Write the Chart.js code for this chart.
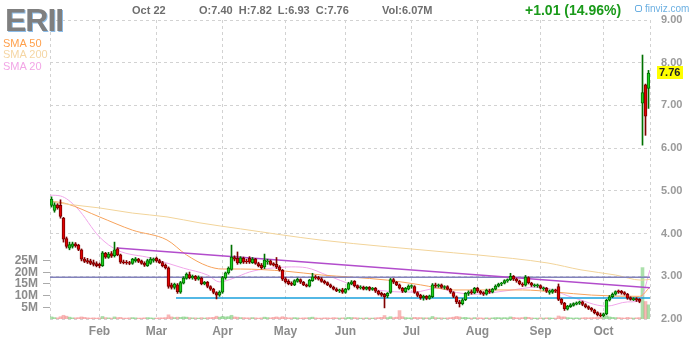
<!DOCTYPE html>
<html>
<head>
<meta charset="utf-8">
<script src="https://cdn.jsdelivr.net/npm/chart.js@4.4.0/dist/chart.umd.min.js"></script>
<style>
  body { margin: 0; background: #fff; }
  #wrap { position: relative; width: 700px; height: 340px; font-family: "Liberation Sans", Arial, sans-serif; }
  #wrap canvas { position: absolute; left: 0; top: 0; }
  .lbl { position: absolute; line-height: 1; white-space: pre; }
</style>
</head>
<body>
<div id="wrap">
  <canvas id="chart" width="700" height="340"></canvas>
  <div class="lbl" style="left:5px;top:4px;font-size:32px;font-weight:bold;letter-spacing:-1px;color:#7f7f7f;text-shadow:1px 1px 0 #8cbce8;">ERII</div>
  <div class="lbl" style="left:3px;top:38px;font-size:11px;color:#ffa04c;">SMA 50</div>
  <div class="lbl" style="left:3px;top:49px;font-size:11px;color:#f5d6a4;">SMA 200</div>
  <div class="lbl" style="left:3px;top:61px;font-size:11px;color:#f2a6e6;">SMA 20</div>
  <div class="lbl" style="left:132px;top:5px;font-size:11px;font-weight:bold;color:#6e6e6e;">Oct 22</div>
  <div class="lbl" style="left:199px;top:5px;font-size:11px;font-weight:bold;color:#6e6e6e;">O:7.40  H:7.82  L:6.93  C:7.76</div>
  <div class="lbl" style="left:382px;top:5px;font-size:11px;font-weight:bold;color:#6e6e6e;">Vol:6.07M</div>
  <div class="lbl" style="left:525px;top:3px;font-size:14px;font-weight:bold;color:#1a9a1a;">+1.01 (14.96%)</div>
  <div class="lbl" style="left:635px;top:4px;font-size:10px;color:#6cb0e2;"><span style="display:inline-block;width:5px;height:5px;border:1px solid #6cb0e2;border-radius:2px;margin-right:3px;"></span>finviz.com</div>
</div>
<script>
// Daily bars Jan 8 - Oct 22
const opens = [
  4.66, 4.54, 4.67, 4.66, 4.36, 3.88, 3.66, 3.70, 3.76, 3.73,
  3.62, 3.40, 3.37, 3.36, 3.32, 3.30, 3.28, 3.25, 3.54, 3.44,
  3.53, 3.48, 3.64, 3.50, 3.34, 3.33, 3.32, 3.30, 3.36, 3.40,
  3.36, 3.31, 3.25, 3.30, 3.37, 3.42, 3.37, 3.32, 3.26, 3.20,
  2.80, 2.74, 2.80, 2.63, 2.84, 2.95, 3.04, 2.96, 3.00, 2.93,
  2.96, 2.82, 2.86, 2.76, 2.70, 2.62, 2.56, 2.63, 2.96, 3.08,
  3.16, 3.44, 3.42, 3.32, 3.42, 3.35, 3.42, 3.32, 3.40, 3.30,
  3.26, 3.22, 3.34, 3.36, 3.30, 3.28, 3.22, 3.14, 2.94, 2.88,
  2.84, 2.80, 2.88, 2.92, 2.86, 2.80, 2.77, 2.90, 2.99, 2.97,
  2.94, 2.88, 2.85, 2.80, 2.75, 2.70, 2.66, 2.68, 2.62, 2.70,
  2.82, 2.88, 2.78, 2.73, 2.75, 2.70, 2.74, 2.69, 2.72, 2.65,
  2.60, 2.58, 2.54, 2.62, 2.92, 2.86, 2.80, 2.72, 2.64, 2.70,
  2.76, 2.76, 2.62, 2.56, 2.50, 2.53, 2.48, 2.52, 2.80, 2.77,
  2.80, 2.74, 2.76, 2.70, 2.62, 2.52, 2.40, 2.36, 2.45, 2.60,
  2.64, 2.61, 2.72, 2.65, 2.62, 2.58, 2.66, 2.63, 2.70, 2.77,
  2.82, 2.84, 2.89, 2.92, 3.00, 2.93, 2.89, 2.82, 2.79, 2.97,
  2.84, 2.78, 2.78, 2.78, 2.71, 2.72, 2.62, 2.63, 2.68, 2.76,
  2.46, 2.37, 2.23, 2.29, 2.32, 2.35, 2.37, 2.40, 2.34, 2.29,
  2.25, 2.21, 2.15, 2.10, 2.07, 2.12, 2.44, 2.52, 2.58, 2.66,
  2.65, 2.62, 2.58, 2.50, 2.45, 2.48, 2.46, 7.05, 7.48, 7.40
];
const highs = [
  4.86, 4.72, 4.70, 4.79, 4.38, 3.92, 3.80, 3.80, 3.79, 3.75,
  3.64, 3.44, 3.42, 3.40, 3.38, 3.34, 3.31, 3.58, 3.56, 3.56,
  3.58, 3.80, 3.67, 3.52, 3.38, 3.37, 3.35, 3.42, 3.44, 3.42,
  3.38, 3.34, 3.40, 3.44, 3.43, 3.45, 3.40, 3.35, 3.29, 3.22,
  2.84, 2.84, 2.83, 2.88, 2.99, 3.08, 3.10, 3.03, 3.02, 3.01,
  2.98, 2.88, 2.88, 2.78, 2.72, 2.64, 2.66, 3.00, 3.10, 3.22,
  3.73, 3.48, 3.57, 3.46, 3.45, 3.40, 3.46, 3.44, 3.42, 3.33,
  3.30, 3.52, 3.40, 3.38, 3.32, 3.44, 3.25, 3.16, 2.97, 2.92,
  2.87, 2.92, 2.96, 2.94, 2.88, 2.82, 2.93, 3.07, 3.02, 3.00,
  2.97, 2.91, 2.87, 2.82, 2.77, 2.73, 2.70, 2.72, 2.72, 2.86,
  2.90, 2.90, 2.80, 2.78, 2.77, 2.76, 2.76, 2.74, 2.74, 2.67,
  2.63, 2.60, 2.62, 2.95, 2.95, 2.88, 2.82, 2.74, 2.74, 2.80,
  2.80, 2.78, 2.64, 2.58, 2.56, 2.55, 2.56, 2.83, 2.84, 2.82,
  2.82, 2.78, 2.78, 2.72, 2.64, 2.54, 2.44, 2.48, 2.62, 2.66,
  2.68, 2.74, 2.74, 2.67, 2.64, 2.70, 2.70, 2.72, 2.80, 2.84,
  2.86, 2.92, 2.94, 3.07, 3.02, 2.96, 2.91, 2.85, 3.02, 2.99,
  2.86, 2.82, 2.82, 2.80, 2.75, 2.74, 2.68, 2.70, 2.70, 2.82,
  2.48, 2.39, 2.32, 2.36, 2.38, 2.40, 2.42, 2.42, 2.36, 2.31,
  2.27, 2.23, 2.17, 2.14, 2.14, 2.46, 2.55, 2.61, 2.66, 2.68,
  2.67, 2.64, 2.60, 2.52, 2.50, 2.50, 2.48, 8.18, 7.50, 7.82
];
const lows = [
  4.62, 4.50, 4.57, 4.36, 3.80, 3.66, 3.62, 3.66, 3.68, 3.60,
  3.36, 3.32, 3.30, 3.27, 3.24, 3.22, 3.20, 3.23, 3.42, 3.42,
  3.44, 3.45, 3.48, 3.30, 3.29, 3.28, 3.27, 3.28, 3.33, 3.32,
  3.28, 3.23, 3.23, 3.28, 3.33, 3.33, 3.30, 3.22, 3.17, 2.72,
  2.70, 2.70, 2.60, 2.60, 2.82, 2.93, 2.94, 2.93, 2.90, 2.91,
  2.80, 2.80, 2.73, 2.67, 2.59, 2.47, 2.53, 2.60, 2.93, 3.05,
  3.14, 3.36, 3.28, 3.29, 3.30, 3.30, 3.30, 3.30, 3.28, 3.22,
  3.17, 3.18, 3.28, 3.26, 3.24, 3.18, 3.12, 2.90, 2.84, 2.80,
  2.78, 2.78, 2.86, 2.83, 2.78, 2.75, 2.75, 2.88, 2.93, 2.91,
  2.86, 2.82, 2.78, 2.73, 2.68, 2.64, 2.62, 2.60, 2.60, 2.68,
  2.80, 2.75, 2.70, 2.70, 2.68, 2.68, 2.66, 2.67, 2.62, 2.56,
  2.53, 2.26, 2.50, 2.60, 2.83, 2.78, 2.70, 2.62, 2.62, 2.68,
  2.72, 2.60, 2.52, 2.46, 2.44, 2.45, 2.46, 2.50, 2.74, 2.74,
  2.72, 2.70, 2.68, 2.60, 2.50, 2.36, 2.28, 2.33, 2.43, 2.55,
  2.58, 2.59, 2.62, 2.58, 2.55, 2.56, 2.60, 2.61, 2.68, 2.75,
  2.78, 2.82, 2.86, 2.90, 2.90, 2.86, 2.80, 2.76, 2.77, 2.82,
  2.76, 2.75, 2.74, 2.70, 2.67, 2.62, 2.58, 2.60, 2.62, 2.43,
  2.34, 2.20, 2.21, 2.27, 2.30, 2.33, 2.34, 2.31, 2.26, 2.22,
  2.18, 2.12, 2.07, 2.05, 2.05, 2.10, 2.42, 2.50, 2.56, 2.60,
  2.58, 2.56, 2.46, 2.44, 2.43, 2.41, 2.38, 6.07, 6.30, 6.93
];
const closes = [
  4.81, 4.67, 4.60, 4.40, 3.87, 3.70, 3.74, 3.76, 3.71, 3.63,
  3.40, 3.35, 3.33, 3.30, 3.28, 3.25, 3.24, 3.55, 3.45, 3.52,
  3.47, 3.62, 3.50, 3.33, 3.32, 3.31, 3.30, 3.40, 3.41, 3.35,
  3.30, 3.26, 3.37, 3.40, 3.40, 3.36, 3.32, 3.25, 3.20, 2.76,
  2.74, 2.82, 2.64, 2.85, 2.96, 3.05, 2.97, 3.00, 2.93, 2.98,
  2.83, 2.86, 2.76, 2.70, 2.62, 2.56, 2.63, 2.97, 3.08, 3.19,
  3.45, 3.40, 3.31, 3.43, 3.33, 3.34, 3.33, 3.40, 3.30, 3.25,
  3.20, 3.38, 3.36, 3.28, 3.26, 3.22, 3.15, 2.93, 2.87, 2.83,
  2.81, 2.90, 2.93, 2.86, 2.80, 2.77, 2.91, 2.99, 2.96, 2.93,
  2.88, 2.85, 2.80, 2.75, 2.70, 2.66, 2.68, 2.63, 2.70, 2.83,
  2.87, 2.78, 2.73, 2.75, 2.70, 2.74, 2.69, 2.72, 2.65, 2.58,
  2.56, 2.52, 2.60, 2.92, 2.86, 2.80, 2.72, 2.65, 2.72, 2.77,
  2.78, 2.62, 2.55, 2.50, 2.53, 2.48, 2.54, 2.80, 2.77, 2.80,
  2.74, 2.76, 2.70, 2.63, 2.53, 2.40, 2.36, 2.45, 2.60, 2.63,
  2.61, 2.72, 2.65, 2.61, 2.58, 2.67, 2.63, 2.70, 2.77, 2.82,
  2.84, 2.90, 2.92, 3.00, 2.93, 2.89, 2.83, 2.79, 2.98, 2.85,
  2.79, 2.80, 2.80, 2.72, 2.73, 2.65, 2.66, 2.68, 2.65, 2.46,
  2.37, 2.24, 2.30, 2.33, 2.36, 2.38, 2.40, 2.34, 2.29, 2.25,
  2.21, 2.15, 2.10, 2.08, 2.12, 2.44, 2.52, 2.58, 2.64, 2.63,
  2.61, 2.58, 2.49, 2.46, 2.48, 2.44, 2.41, 7.30, 6.75, 7.76
];
// volume in millions
const volumes = [
  0.9, 0.6, 0.5, 1.0, 1.6, 1.2, 0.8, 0.5, 0.5, 0.6, 0.9, 0.7, 0.5, 0.4, 0.5, 0.4, 0.5, 1.1, 0.6, 0.5,
  0.4, 0.9, 0.6, 0.7, 0.4, 0.4, 0.5, 0.6, 0.5, 0.4, 0.4, 0.5, 0.6, 0.5, 0.4, 0.4, 0.5, 0.5, 0.6, 1.8,
  0.9, 0.6, 0.8, 0.7, 0.9, 0.8, 0.6, 0.5, 0.5, 0.4, 0.6, 0.4, 0.6, 0.6, 0.7, 1.2, 0.8, 1.1, 0.9, 1.0,
  1.6, 0.9, 0.8, 0.6, 0.6, 0.5, 0.5, 0.6, 0.5, 0.4, 0.5, 0.8, 0.6, 0.5, 0.7, 0.9, 0.6, 1.0, 0.7, 0.5,
  0.5, 0.6, 0.5, 0.4, 0.5, 0.5, 0.6, 0.8, 0.5, 0.4, 0.4, 0.5, 0.5, 0.4, 0.6, 0.5, 0.4, 0.5, 0.5, 0.7,
  0.6, 0.6, 0.5, 0.4, 0.4, 0.5, 0.4, 0.4, 0.5, 0.6, 0.7, 1.5, 0.6, 1.0, 0.6, 0.8, 3.6, 1.0, 0.6, 0.5,
  0.5, 0.7, 0.6, 0.6, 0.5, 0.5, 0.5, 1.1, 0.6, 0.5, 0.5, 0.4, 0.5, 0.6, 0.8, 1.1, 0.9, 0.6, 0.7, 0.5,
  0.4, 0.6, 0.5, 0.5, 0.4, 0.5, 0.4, 0.5, 0.6, 0.6, 0.5, 0.6, 0.5, 0.9, 0.7, 0.5, 0.5, 0.6, 0.8, 0.7,
  0.5, 0.4, 0.4, 0.5, 0.4, 0.5, 0.5, 0.4, 0.4, 1.3, 0.9, 0.9, 0.6, 0.5, 0.4, 0.5, 0.4, 0.5, 0.6, 0.5,
  0.6, 0.6, 0.7, 0.6, 0.6, 1.4, 0.9, 0.7, 0.6, 0.6, 0.5, 0.4, 0.7, 0.5, 0.4, 0.5, 0.6, 22.0, 7.5, 6.07
];

// moving averages, [day index, price]
const sma20 = [[-0.5, 4.90], [3, 4.88], [8.5, 4.60], [16, 3.92], [22, 3.61], [33, 3.43], [38.5, 3.31],
  [44, 3.19], [52, 3.03], [56, 2.87], [60.5, 2.95], [66, 3.10], [72, 3.18], [80, 3.22], [85, 3.20],
  [92, 3.02], [100.5, 2.80], [112, 2.65], [121, 2.63], [128.5, 2.72], [135, 2.62], [141, 2.58],
  [151.5, 2.66], [162.5, 2.75], [173.5, 2.51], [185, 2.30], [192, 2.40], [196, 2.42], [199.5, 3.15]];
const sma50 = [[-0.5, 4.76], [5, 4.70], [16, 4.39], [27, 4.08], [38.5, 3.85], [45, 3.50], [52, 3.24],
  [57, 3.17], [63, 3.17], [78, 3.12], [90, 3.03], [100, 2.98], [112, 2.91], [123, 2.80], [134, 2.68],
  [145, 2.68], [157, 2.68], [168, 2.63], [180, 2.56], [196, 2.53], [199.5, 2.75]];
const sma200 = [[-0.5, 4.75], [5, 4.69], [16, 4.60], [27, 4.48], [38.5, 4.39], [49.5, 4.25], [63, 4.11],
  [89.5, 3.85], [112, 3.69], [134, 3.55], [142, 3.50], [165.5, 3.31], [176.5, 3.15], [188, 3.03],
  [196.5, 2.91], [199.5, 2.93]];

// drawn lines
const trendLine = [[21.8, 3.66], [199.5, 2.73]];
const resistLine = [[-0.5, 2.98], [199.5, 2.98]];
const supportLine = [[41.5, 2.49], [199.5, 2.49]];

// axes
const monthIdx = [16, 35, 57, 78, 98, 120, 142, 163, 184];
const monthLabels = ['Feb', 'Mar', 'Apr', 'May', 'Jun', 'Jul', 'Aug', 'Sep', 'Oct'];
const priceTicks = [2, 3, 4, 5, 6, 7, 8, 9];
const volumeTicks = [5, 10, 15, 20, 25];

const up = closes.map((c, i) => c >= opens[i]);
const toXY = pts => pts.map(p => ({ x: p[0], y: p[1] }));

// yellow last price tag
const lastPriceTag = {
  id: 'lastPriceTag',
  afterDraw(chart) {
    const { ctx, scales: { y } } = chart;
    const last = closes[closes.length - 1];
    const py = Math.round(y.getPixelForValue(last));
    ctx.save();
    ctx.fillStyle = '#ffff00';
    ctx.fillRect(657, py - 7, 26, 13);
    ctx.fillStyle = '#222';
    ctx.font = 'bold 11px "Liberation Sans", Arial, sans-serif';
    ctx.textBaseline = 'middle';
    ctx.fillText(last.toFixed(2), 659, py);
    ctx.restore();
  }
};

Chart.defaults.font.family = '"Liberation Sans", Arial, sans-serif';

const gridDash = [3, 3];
const gridColor = '#d2d2d2';

new Chart(document.getElementById('chart'), {
  type: 'bar',
  data: {
    datasets: [
      {
        label: 'Volume',
        yAxisID: 'yv',
        data: volumes.map((v, i) => ({ x: i, y: v })),
        backgroundColor: up.map(u => u ? 'rgba(0,160,0,0.33)' : 'rgba(230,0,0,0.28)'),
        barThickness: 3,
        grouped: false,
        order: 10
      },
      {
        type: 'line', label: 'SMA 200', yAxisID: 'y', data: toXY(sma200),
        borderColor: '#f2d49a', borderWidth: 1, pointRadius: 0, cubicInterpolationMode: 'monotone', order: 6
      },
      {
        type: 'line', label: 'SMA 50', yAxisID: 'y', data: toXY(sma50),
        borderColor: '#f7a35c', borderWidth: 1, pointRadius: 0, cubicInterpolationMode: 'monotone', order: 6
      },
      {
        type: 'line', label: 'SMA 20', yAxisID: 'y', data: toXY(sma20),
        borderColor: '#f1a6ea', borderWidth: 1, pointRadius: 0, cubicInterpolationMode: 'monotone', order: 6
      },
      {
        type: 'line', label: 'trend', yAxisID: 'y', data: toXY(trendLine),
        borderColor: '#b24ccc', borderWidth: 1.5, pointRadius: 0, order: 5
      },
      {
        type: 'line', label: 'resist', yAxisID: 'y', data: toXY(resistLine),
        borderColor: '#8282bc', borderWidth: 1.5, pointRadius: 0, order: 5
      },
      {
        type: 'line', label: 'support', yAxisID: 'y', data: toXY(supportLine),
        borderColor: '#1aa0dc', borderWidth: 1.5, pointRadius: 0, order: 5
      },
      {
        label: 'Wicks',
        yAxisID: 'y',
        data: closes.map((c, i) => ({ x: i, y: [lows[i], highs[i]] })),
        backgroundColor: up.map(u => u ? '#007000' : '#800000'),
        barThickness: 1,
        grouped: false,
        order: 2
      },
      {
        label: 'Bodies',
        yAxisID: 'y',
        data: closes.map((c, i) => ({ x: i, y: [opens[i], c] })),
        backgroundColor: up.map(u => u ? '#1ed01e' : '#e00000'),
        borderColor: up.map(u => u ? '#006a00' : '#780000'),
        borderWidth: 1,
        borderSkipped: false,
        barThickness: 3,
        grouped: false,
        order: 1
      }
    ]
  },
  options: {
    responsive: false,
    animation: false,
    layout: { padding: { top: 20, left: 0, right: 0, bottom: 0 }, autoPadding: false },
    plugins: { legend: { display: false }, tooltip: { enabled: false } },
    scales: {
      x: {
        type: 'linear',
        min: -0.5,
        max: 199.5,
        offset: false,
        afterBuildTicks: scale => {
          scale.ticks = [-0.5, ...monthIdx, 199.5].map(v => ({ value: v }));
        },
        afterFit: scale => { scale.height = 21; },
        ticks: {
          autoSkip: false,
          maxRotation: 0,
          padding: 5,
          color: '#8c8c8c',
          font: { size: 12, weight: 'bold' },
          callback: v => {
            const k = monthIdx.indexOf(v);
            return k >= 0 ? monthLabels[k] : '';
          }
        },
        grid: { color: gridColor, drawTicks: false, offset: false },
        border: { display: false, dash: gridDash }
      },
      y: {
        type: 'linear',
        position: 'right',
        min: 2,
        max: 9,
        beginAtZero: false,
        afterBuildTicks: scale => {
          scale.ticks = priceTicks.map(v => ({ value: v }));
        },
        afterFit: scale => { scale.width = 50; },
        ticks: {
          padding: 11,
          color: '#9a9a9a',
          font: { size: 11, weight: 'bold' },
          callback: v => v.toFixed(2)
        },
        grid: { color: gridColor, drawTicks: false },
        border: { display: false, dash: gridDash }
      },
      yv: {
        type: 'linear',
        position: 'left',
        min: 0,
        max: 128,
        afterBuildTicks: scale => {
          scale.ticks = volumeTicks.map(v => ({ value: v }));
        },
        afterFit: scale => { scale.width = 50; },
        ticks: {
          padding: 5,
          color: '#8c8c8c',
          font: { size: 12, weight: 'bold' },
          callback: v => v + 'M'
        },
        grid: { drawOnChartArea: false, drawTicks: true, tickLength: 7, tickColor: '#aaaaaa' },
        border: { display: false }
      }
    }
  },
  plugins: [lastPriceTag]
});
</script>
</body>
</html>
